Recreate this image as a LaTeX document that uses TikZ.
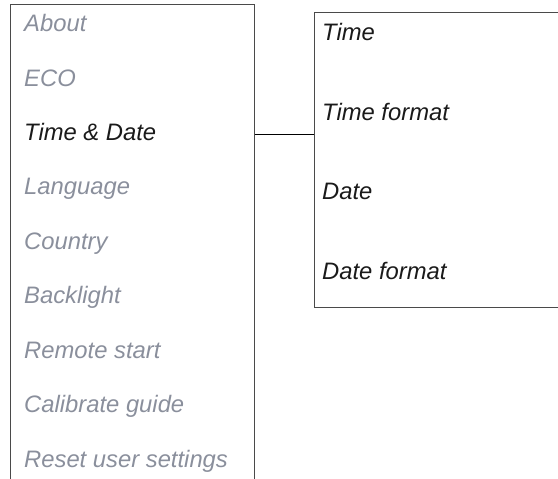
\documentclass[tikz,border=0pt]{standalone}
\usepackage{fontspec}
\setmainfont{Liberation Sans}
\usepackage{xcolor}
\usepackage{tikz}
\usetikzlibrary{
  positioning,
  calc
}
\definecolor{MenuGray}{HTML}{8A8F9C}
\definecolor{FrameGray}{HTML}{4A4A4A}
\definecolor{ItemBlack}{HTML}{1A1A1A}
\tikzset{
  panel/.style={
    draw=FrameGray,
    line width=1.2pt,
    anchor=north west,
    inner sep=0pt
  },
  item/.style={
    anchor=base west,
    inner sep=0pt,
    font=\fontsize{23.8}{28}\selectfont\itshape,
    text=MenuGray
  },
  active/.style={
    item,
    text=ItemBlack
  },
  link/.style={
    draw=black,
    line width=0.9pt
  }
}
\begin{document}
\begin{tikzpicture}[x=1pt,y=-1pt]

  \useasboundingbox (0,0) rectangle (558,479);
  \clip (0,0) rectangle (558,479);

  \node[
    panel,
    minimum width=244pt,
    minimum height=520pt
  ] (menu) at (10,4) {};

  \node[
    panel,
    minimum width=300pt,
    minimum height=295pt
  ] (submenu) at (314,12) {};

  \node[item] (about) at (24,31) {About};
  \node[item] (eco) at (24,86) {ECO};
  \node[active] (timedate) at (24,140) {Time \& Date};
  \node[item] (language) at (24,194) {Language};
  \node[item] (country) at (24,249) {Country};
  \node[item] (backlight) at (24,303) {Backlight};
  \node[item] (remote) at (24,358) {Remote start};
  \node[item] (calibrate) at (24,412) {Calibrate guide};
  \node[item] (reset) at (24,467) {Reset user settings};

  \node[active] (time) at (322,40) {Time};
  \node[active] (timeformat) at (322,120) {Time format};
  \node[active] (date) at (322,199) {Date};
  \node[active] (dateformat) at (322,279) {Date format};

  \coordinate (linkrow) at (0,134);

  \draw[link]
  (menu.east |- linkrow) --
  (submenu.west |- linkrow);

\end{tikzpicture}
\end{document}
